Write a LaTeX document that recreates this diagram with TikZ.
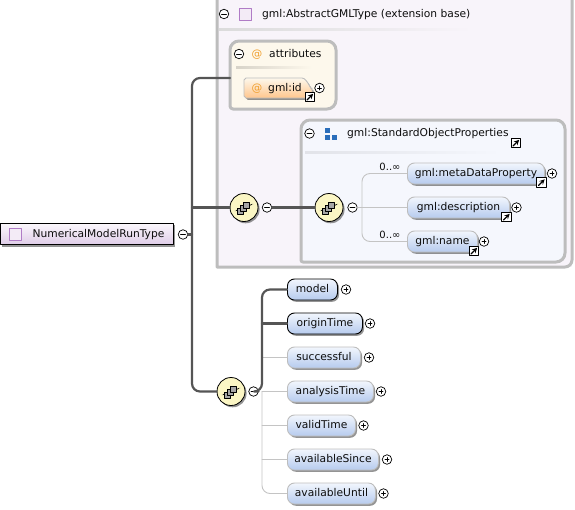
\documentclass[tikz,border=0pt]{standalone}
\usepackage{fontspec}
\setmainfont{DejaVu Sans}
\usetikzlibrary{shadows}
\definecolor{boxgray}{HTML}{BDBDBD}
\definecolor{linkgray}{HTML}{C4C4C4}
\definecolor{stemgray}{HTML}{555555}
\definecolor{typefill}{HTML}{F8F4FA}
\definecolor{attrfill}{HTML}{FDF8EC}
\definecolor{groupfill}{HTML}{F5F7FD}
\definecolor{purpleicon}{HTML}{B07CC6}
\definecolor{atcolor}{HTML}{F0A030}
\definecolor{blueicon}{HTML}{2A6EBB}
\definecolor{elemtop}{HTML}{F2F6FD}
\definecolor{elembottom}{HTML}{B6CBEE}
\definecolor{roottop}{HTML}{FBF8FC}
\definecolor{rootbottom}{HTML}{DFCCE8}
\definecolor{seqfill}{HTML}{FBF6C4}
\tikzset{
  softshadow/.style={drop shadow={shadow xshift=1.6pt, shadow yshift=-1.8pt, fill=black!70, opacity=0.6}},
  label/.style={font=\fontsize{10.7}{12}\selectfont, text=black!95, inner sep=0pt, text height=8pt, text depth=2pt},
  elem/.style={label, anchor=west, draw=boxgray, line width=0.9pt, rounded corners=7pt, minimum height=21pt,
    top color=elemtop, bottom color=elembottom, softshadow},
  elemreq/.style={elem, draw=black},
  togglebase/.style={circle, draw=black, fill=white, line width=0.7pt, inner sep=0pt, minimum size=9.5pt},
  toggleminus/.style={togglebase, path picture={
    \draw[line width=0.8pt] ([xshift=-2.5pt]path picture bounding box.center) -- ([xshift=2.5pt]path picture bounding box.center);}},
  toggleplus/.style={togglebase, path picture={
    \draw[line width=0.7pt] ([xshift=-2pt]path picture bounding box.center) -- ([xshift=2pt]path picture bounding box.center);
    \draw[line width=0.7pt] ([yshift=-2pt]path picture bounding box.center) -- ([yshift=2pt]path picture bounding box.center);}},
  linkbox/.style={rectangle, draw=black, fill=white, line width=0.9pt, inner sep=0pt, minimum size=9.5pt, path picture={
    \draw[line width=1.3pt, ->, >=stealth] ([shift={(-3pt,-3pt)}]path picture bounding box.center) -- ([shift={(3.2pt,3.2pt)}]path picture bounding box.center);}},
  seqnode/.style={circle, draw=black, line width=0.8pt, fill=seqfill, minimum size=28pt, inner sep=0pt, softshadow, path picture={
    \begin{scope}[shift={(path picture bounding box.center)}]
      \draw[line width=0.7pt] (-9,3.5) -- (9,-3.5);
      \fill (-9,3.5) circle (1.1pt);
      \fill (9,-3.5) circle (1.1pt);
      \draw[fill=black!35, line width=0.4pt] (-6.5,0.5) rectangle (-0.5,6.5);
      \draw[fill=black!35, line width=0.4pt] (-3.5,-2.5) rectangle (2.5,3.5);
      \draw[fill=black!35, line width=0.4pt] (-0.5,-5.5) rectangle (5.5,0.5);
    \end{scope}}},
  typeicon/.style={rectangle, draw=purpleicon, line width=0.9pt, fill=white!85!purpleicon, inner sep=0pt, minimum size=12.5pt},
  boldconn/.style={draw=stemgray, line width=2.2pt},
  thinconn/.style={draw=linkgray, line width=0.9pt},
  container/.style={draw=boxgray, line width=3pt},
  occurs/.style={font=\fontsize{10}{11}\selectfont, text=black!95, inner sep=0pt}
}
\begin{document}
\begin{tikzpicture}[x=1pt, y=-1pt, line cap=round, line join=round]
  \useasboundingbox (0,0) rectangle (575,509);

  % Extension base container, open at the top edge
  \fill[typefill] (217,-3) -- (217,267) -- (572,267) -- (572,-3) -- cycle;
  \draw[container] (217,-3) -- (217,267) [rounded corners=7pt] -- (572,267) -- (572,-3);
  \fill[left color=black!14, right color=typefill] (219,28) rectangle (472,30);
  \node[toggleminus] (basetoggle) at (224,14) {};
  \node[typeicon] (baseicon) at (245.5,14.5) {};
  \node[label, anchor=west] (basetitle) at (262,14) {gml:AbstractGMLType (extension base)};

  % Attributes
  \draw[container, fill=attrfill, rounded corners=3pt] (230,41) -- (230,109) [rounded corners=9pt] -- (336,109) -- (336,41) -- cycle;
  \coordinate (attrbox) at (230,78);
  \fill[left color=attrfill!85!black, right color=attrfill] (236,66.5) rectangle (312,68);
  \node[toggleminus] (attrtoggle) at (239,54) {};
  \node[label, anchor=center, text=atcolor] (attrat) at (257,54) {@};
  \node[label, anchor=west] (attrtitle) at (269,54) {attributes};
  \draw[draw=boxgray, line width=0.9pt, top color=attrfill, bottom color=orange!45!white, softshadow]
    (244,80) to[out=-90,in=180] (246,78) -- (302,78) to[out=0,in=-90] (312,88) -- (312,98) -- (246,98) to[out=180,in=90] (244,96) -- cycle;
  \node[label, text=atcolor] (idat) at (257,88) {@};
  \node[label] (gmlid) at (285,88) {gml:id};
  \node[linkbox] (idlink) at (310,97) {};
  \node[toggleplus] (idtoggle) at (319.5,88) {};

  % Property group
  \draw[container, fill=groupfill, rounded corners=2pt] (301,120) -- (301,262) [rounded corners=9pt] -- (565,262) -- (565,120) -- cycle;
  \fill[left color=groupfill!92!black, right color=groupfill] (305,151) rectangle (500,153);
  \node[toggleminus] (grouptoggle) at (309.5,133.5) {};
  \fill[blueicon] (325,128) rectangle (330,133);
  \fill[blueicon] (325,134.5) rectangle (330,140);
  \fill[blueicon] (332,134.5) rectangle (337,140);
  \node[label, anchor=west] (grouptitle) at (347,133) {gml:StandardObjectProperties};
  \node[linkbox] (grouplink) at (516,143) {};

  \node[seqnode] (seqinner) at (329,207.5) {};
  \node[toggleminus] (seqinnertoggle) at (352.5,207.5) {};
  \coordinate (branchinner) at (362,207.5);
  \node[occurs] (metaoccurs) at (390,167) {0..∞};
  \node[occurs] (nameoccurs) at (390,234.5) {0..∞};
  \node[elem, minimum width=137pt] (metaData) at (407,173.5) {gml:metaDataProperty};
  \node[linkbox] (metalink) at (541.5,182.5) {};
  \node[toggleplus] (metatoggle) at (552,173.5) {};
  \node[elem, minimum width=102pt] (description) at (407,207.5) {gml:description};
  \node[linkbox] (desclink) at (506.5,217) {};
  \node[toggleplus] (desctoggle) at (516.5,207.5) {};
  \node[elem, minimum width=70pt] (gmlname) at (407,241.5) {gml:name};
  \node[linkbox] (namelink) at (474,251) {};
  \node[toggleplus] (nametoggle) at (484,241.5) {};

  % Root type
  \node[label, draw=black, line width=0.9pt, minimum width=173pt, minimum height=21.5pt, top color=roottop, bottom color=rootbottom, softshadow]
    (root) at (87,234) {\hspace*{23pt}NumericalModelRunType};
  \node[typeicon] (rooticon) at (15.5,234.5) {};
  \node[toggleminus] (roottoggle) at (183,234.5) {};
  \coordinate (stem) at (192,234.5);

  % Compositors
  \node[seqnode] (seqouter) at (244,207.5) {};
  \node[toggleminus] (seqoutertoggle) at (267,207.5) {};
  \node[seqnode] (seqlower) at (231,391.5) {};
  \node[toggleminus] (seqlowertoggle) at (253.5,391.5) {};
  \coordinate (branchlower) at (262,391.5);

  % Lower elements
  \node[elemreq, minimum width=50pt] (model) at (287,289.5) {model};
  \node[toggleplus] (modeltoggle) at (346,289.5) {};
  \node[elemreq, minimum width=75pt] (originTime) at (287,323.5) {originTime};
  \node[toggleplus] (origintoggle) at (370,323.5) {};
  \node[elem, minimum width=73pt] (successful) at (287,357.5) {successful};
  \node[toggleplus] (successtoggle) at (369,357.5) {};
  \node[elem, minimum width=86pt] (analysisTime) at (287,391.5) {analysisTime};
  \node[toggleplus] (analysistoggle) at (381,391.5) {};
  \node[elem, minimum width=68pt] (validTime) at (287,425.5) {validTime};
  \node[toggleplus] (validtoggle) at (363.5,425.5) {};
  \node[elem, minimum width=91pt] (availableSince) at (287,459.5) {availableSince};
  \node[toggleplus] (sincetoggle) at (387,459.5) {};
  \node[elem, minimum width=88pt] (availableUntil) at (287,493.5) {availableUntil};
  \node[toggleplus] (untiltoggle) at (383.5,493.5) {};

  % Connectors
  \draw[boldconn, rounded corners=8pt] (attrbox) -| (stem) |- (seqlower);
  \draw[boldconn] (roottoggle) -- (stem);
  \draw[boldconn] (stem |- seqouter) -- (seqouter);
  \draw[boldconn] (seqoutertoggle) -- (seqinner);

  \draw[thinconn] (seqinnertoggle) -- (description);
  \draw[thinconn, rounded corners=8pt] (metaData.west) -| (branchinner) |- (gmlname.west);

  \draw[thinconn, rounded corners=8pt] (branchlower) |- (availableUntil.west);
  \draw[thinconn] (branchlower |- successful) -- (successful);
  \draw[thinconn] (branchlower) -- (analysisTime);
  \draw[thinconn] (branchlower |- validTime) -- (validTime);
  \draw[thinconn] (branchlower |- availableSince) -- (availableSince);
  \draw[boldconn, rounded corners=8pt] (seqlowertoggle) -- (branchlower) |- (model.west);
  \draw[boldconn] (branchlower |- originTime) -- (originTime);
\end{tikzpicture}
\end{document}
